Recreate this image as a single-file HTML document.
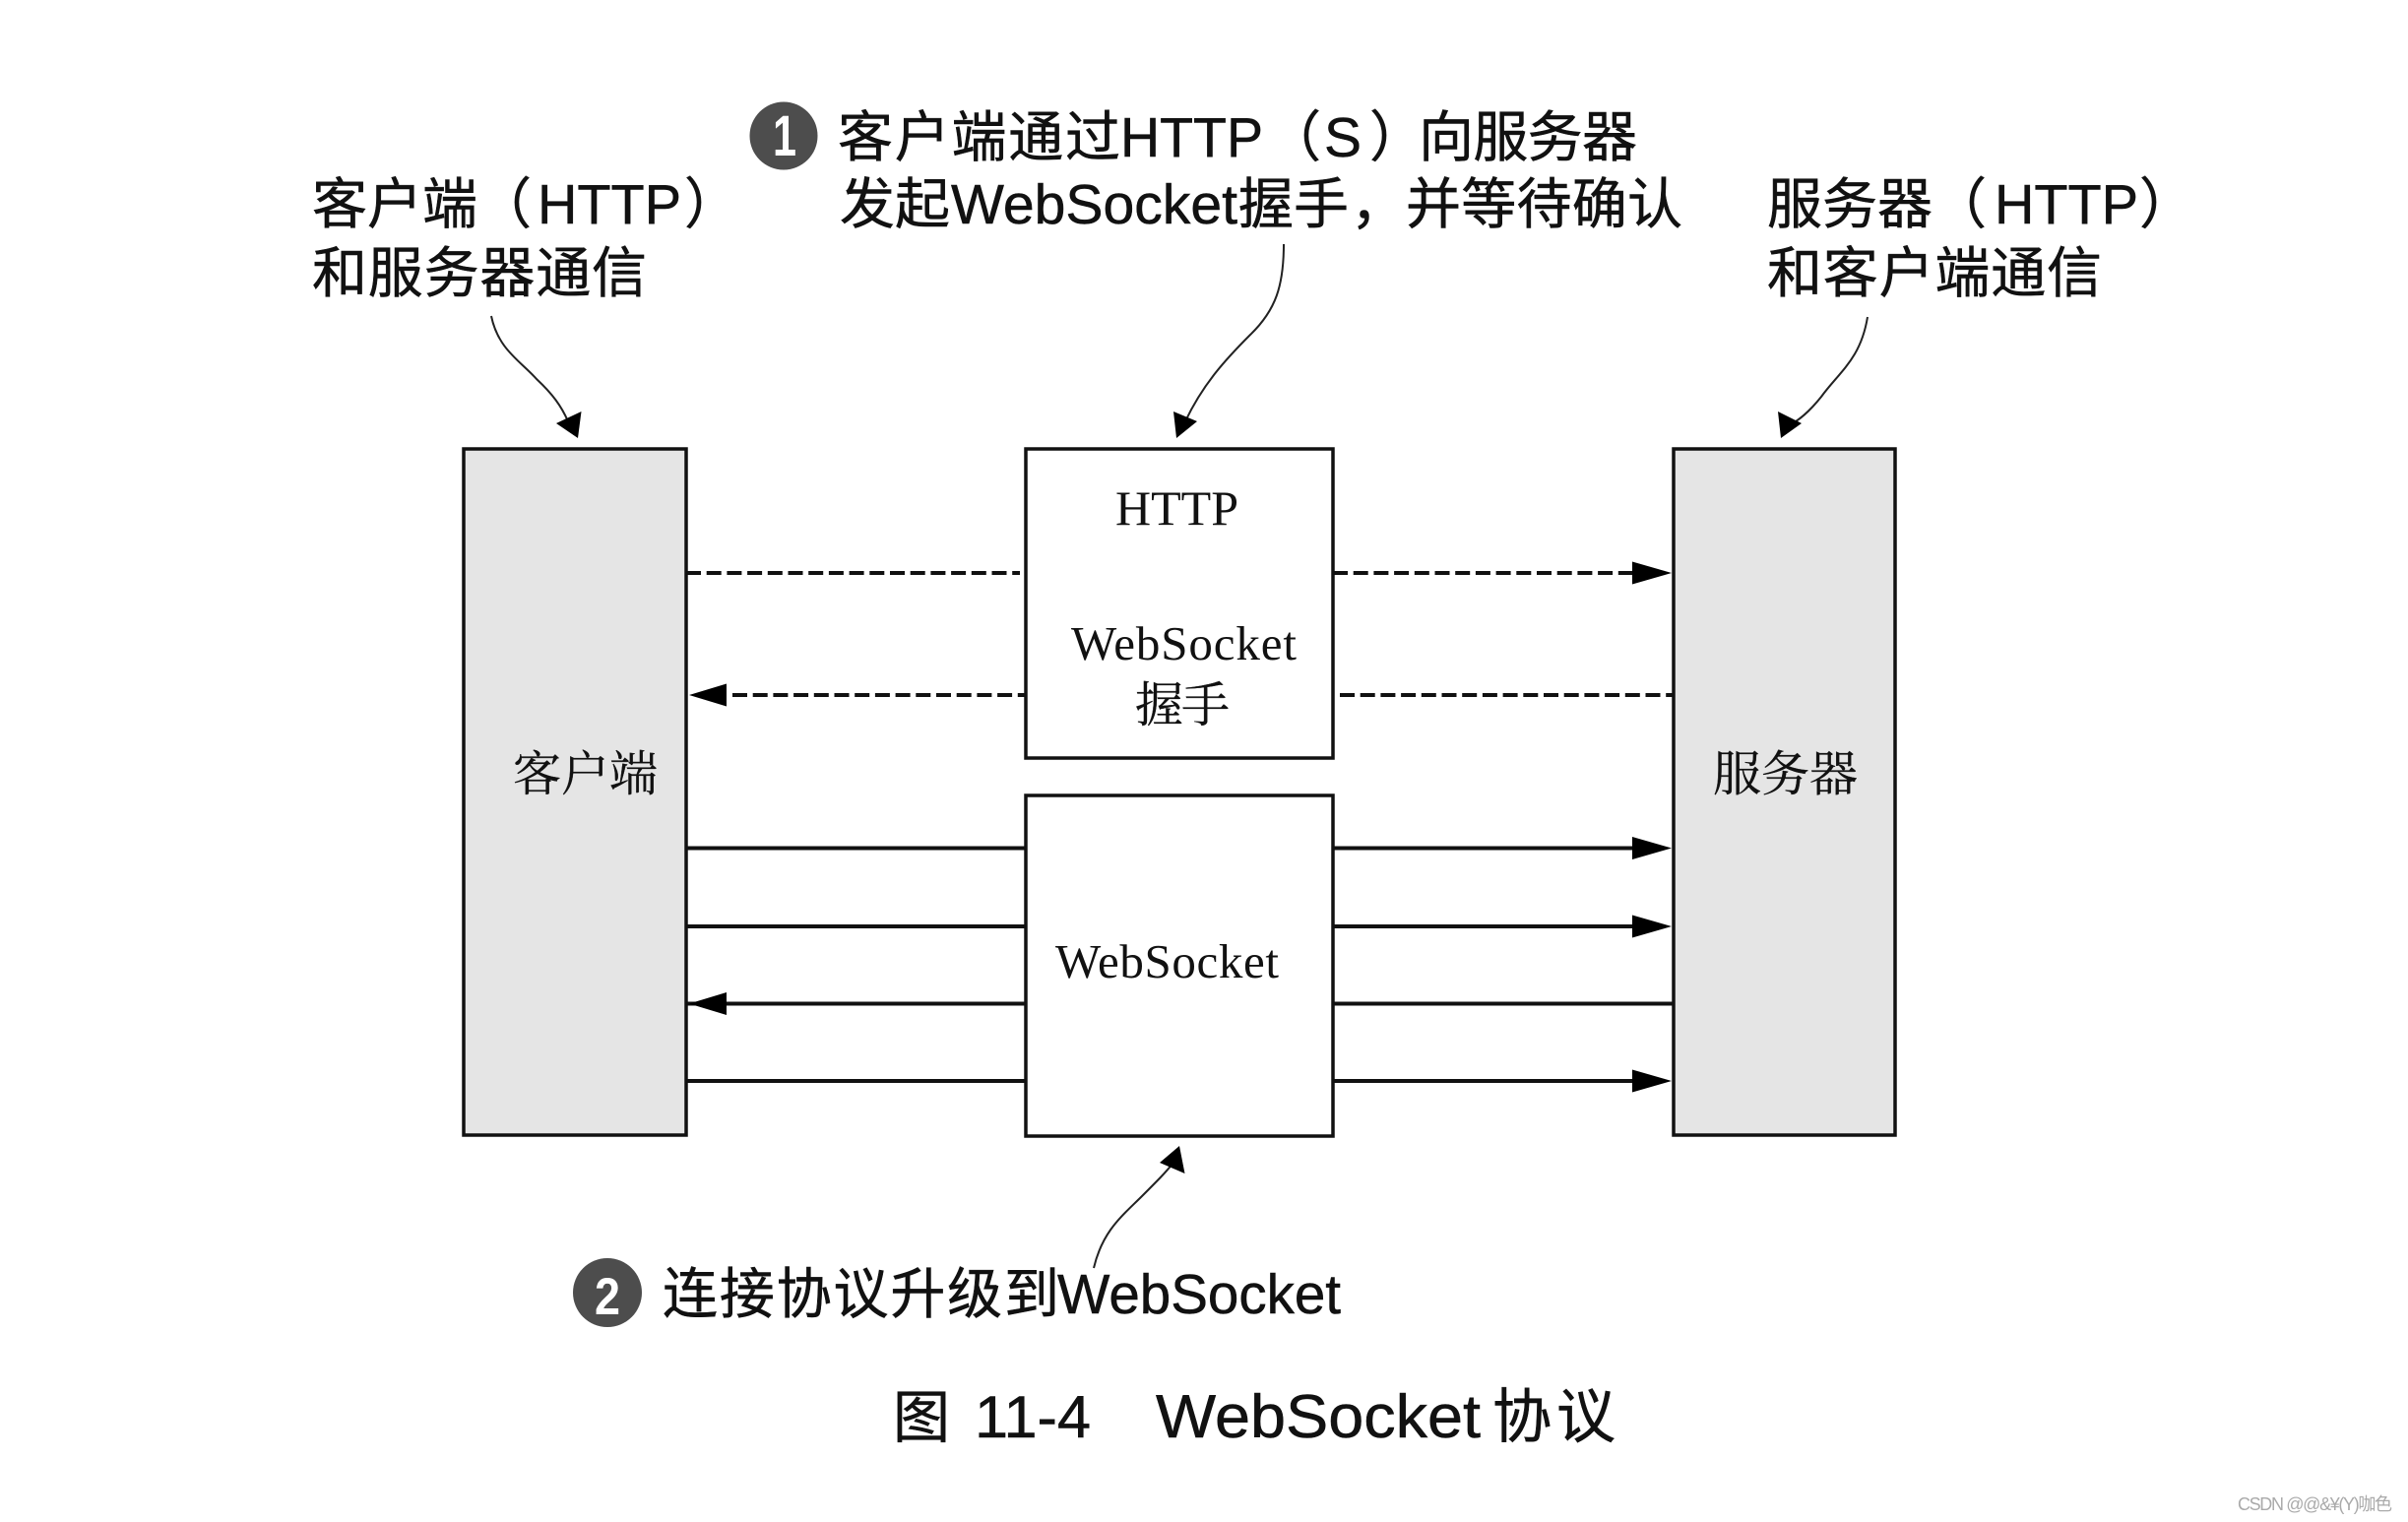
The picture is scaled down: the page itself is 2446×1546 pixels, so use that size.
<!DOCTYPE html>
<html><head><meta charset="utf-8"><style>
html,body{margin:0;padding:0;background:#fff}
svg{display:block}
.h{font-family:"Liberation Sans","Noto Sans CJK SC",sans-serif;font-size:56px;fill:#111;stroke:#111;stroke-width:.5px}
.l{font-family:"Liberation Sans",sans-serif;font-size:57px;fill:#111;stroke:#111;stroke-width:.5px}
.s{font-family:"Liberation Serif",serif;font-size:49px;fill:#111}
.c{font-family:"Liberation Serif","Noto Serif CJK SC",serif;font-size:49px;fill:#111;stroke:#111;stroke-width:.3px}
</style></head><body>
<svg xmlns="http://www.w3.org/2000/svg" width="2446" height="1546" viewBox="0 0 2446 1546">
<rect width="2446" height="1546" fill="#fff"/>
<g stroke="#111" stroke-width="3.5">
<rect x="471" y="456" width="226" height="697" fill="#e5e5e5"/>
<rect x="1700" y="456" width="225" height="697" fill="#e5e5e5"/>
<rect x="1042" y="456" width="312" height="314" fill="#fff"/>
<rect x="1042" y="808" width="312" height="346" fill="#fff"/>
</g>
<g stroke="#111" stroke-width="4" fill="none">
<path d="M697 582H1036" stroke-dasharray="15 5.700"/>
<path d="M744 706H1042" stroke-dasharray="15 5.700"/>
<path d="M1354 582H1660" stroke-dasharray="15 5.700"/>
<path d="M1361 706H1700" stroke-dasharray="15 5.700"/>
<path d="M697 861.500H1042M697 941H1042M697 1019.500H1042M697 1098H1042"/>
<path d="M1354 861.500H1660M1354 941H1660M1354 1019.500H1700M1354 1098H1660"/>
</g>
<g fill="#000">
<path d="M1658 570.500L1698 582L1658 593.500Z"/>
<path d="M1658 850L1698 861.500L1658 873Z"/>
<path d="M1658 929.500L1698 941L1658 952.500Z"/>
<path d="M1658 1086.500L1698 1098L1658 1109.500Z"/>
<path d="M738 694.500L700 706L738 717.500Z"/>
<path d="M738 1008L700 1019.500L738 1031Z"/>
</g>
<g fill="none" stroke="#222" stroke-width="2">
<path d="M499 321C506 355 529 367 545 385C561 400 570 412 577 428"/>
<path d="M1304 248C1304 290 1296 315 1270 340C1245 365 1222 390 1204 428"/>
<path d="M1897 322C1890 365 1868 378 1850 403C1838 418 1826 428 1817 432"/>
<path d="M1111 1288C1120 1250 1140 1235 1160 1215C1175 1200 1185 1190 1191 1182"/>
</g>
<g fill="#000">
<path d="M587 445L565 430L590.500 418Z"/>
<path d="M1195 445L1192 418L1216 428Z"/>
<path d="M1809 445L1806 418L1830 430Z"/>
<path d="M1198 1164L1178 1181L1203.500 1192Z"/>
</g>
<circle cx="796" cy="138" r="34.500" fill="#4d4d4d"/>
<circle cx="617" cy="1313" r="35" fill="#4d4d4d"/>
<text x="785" y="158" font-family="Liberation Sans" font-weight="700" font-size="58" fill="#fff" textLength="24" lengthAdjust="spacingAndGlyphs">1</text>
<text x="604" y="1335" font-family="Liberation Sans" font-weight="700" font-size="53" fill="#fff" textLength="26" lengthAdjust="spacingAndGlyphs">2</text>

<text class="h" x="851" y="159" textLength="287">客户端通过</text>
<text class="l" x="1138" y="159" textLength="145" lengthAdjust="spacingAndGlyphs">HTTP</text>
<text class="h" x="1286" y="159">（</text>
<text class="l" x="1345" y="159">S</text>
<text class="h" x="1391" y="159">）</text>
<text class="h" x="1441" y="159" textLength="222">向服务器</text>

<text class="h" x="853" y="227" textLength="112">发起</text>
<text class="l" x="966" y="227" textLength="291" lengthAdjust="spacingAndGlyphs">WebSocket</text>
<text class="h" x="1258" y="227">握手</text>
<text class="h" x="1372" y="227">，</text>
<text class="h" x="1428" y="227" textLength="281">并等待确认</text>

<text class="h" x="317" y="227">客户端</text>
<text class="h" x="484" y="227">（</text>
<text class="l" x="546" y="227" textLength="146" lengthAdjust="spacingAndGlyphs">HTTP</text>
<text class="h" x="695" y="227">）</text>
<text class="h" x="317" y="297" textLength="340">和服务器通信</text>

<text class="h" x="1795" y="227">服务器</text>
<text class="h" x="1962" y="227">（</text>
<text class="l" x="2026" y="227" textLength="146" lengthAdjust="spacingAndGlyphs">HTTP</text>
<text class="h" x="2173" y="227">）</text>
<text class="h" x="1795" y="297" textLength="340">和客户端通信</text>

<text class="s" x="1133" y="533" style="font-size:50px" textLength="125">HTTP</text>
<text class="s" x="1088" y="670" textLength="229">WebSocket</text>
<text class="c" x="1153" y="733" textLength="96">握手</text>
<text class="s" x="1072" y="993" textLength="227">WebSocket</text>
<text class="c" x="521" y="803" textLength="147">客户端</text>
<text class="c" x="1740" y="803" textLength="147">服务器</text>

<text class="h" x="673" y="1334" textLength="403">连接协议升级到</text>
<text class="l" x="1074" y="1334" textLength="288" lengthAdjust="spacingAndGlyphs">WebSocket</text>

<text class="h" x="907" y="1460" style="font-size:58px">图</text>
<text class="l" x="990" y="1460" style="font-size:60px" textLength="118" lengthAdjust="spacingAndGlyphs">11-4</text>
<text class="l" x="1174" y="1460" style="font-size:62px" textLength="330" lengthAdjust="spacingAndGlyphs">WebSocket</text>
<text class="h" x="1516" y="1460" style="font-size:60px" textLength="125">协议</text>

<text x="2273" y="1534" font-family="Liberation Sans, Noto Sans CJK SC, sans-serif" font-size="18" fill="#aaa" textLength="157">CSDN @@&amp;¥(Y)咖色</text>
</svg>
</body></html>
